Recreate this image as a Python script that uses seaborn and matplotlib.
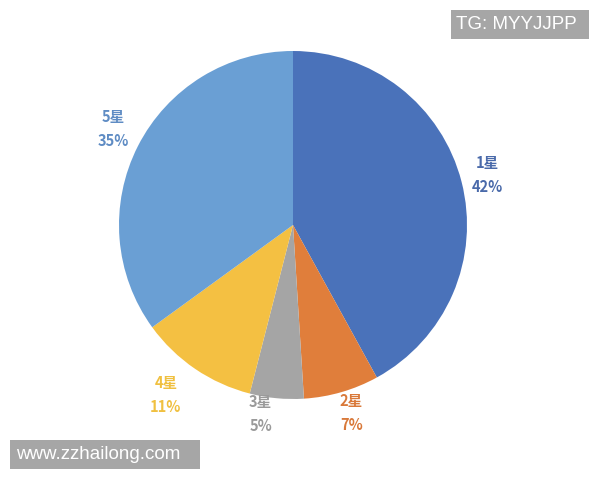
import numpy as np
import matplotlib
matplotlib.use("Agg")
import matplotlib.pyplot as plt
from matplotlib.patches import Rectangle
import seaborn as sns

categories = ["1星", "2星", "3星", "4星", "5星"]
values = [42, 7, 5, 11, 35]
pct_labels = ["42%", "7%", "5%", "11%", "35%"]
slice_colors = ["#4a72ba", "#e07e3b", "#a5a5a5", "#f4c042", "#6a9fd4"]
text_colors = ["#4a6aaa", "#d9793a", "#9a9a9a", "#f0c040", "#5f8cc4"]
label_dist = [1.155, 1.13, 1.10, 1.22, 1.17]
label_ang_shift = [0, 1, -4.3, -2.6, -1]

sns.set_theme(style="white")
plt.rcParams['font.family'] = ['Noto Sans CJK SC', 'DejaVu Sans']

palette = sns.color_palette(slice_colors)

W, H = 600, 480
fig = plt.figure(figsize=(6, 4.8), dpi=100)
ax = fig.add_axes([0, 0, 1, 1])

cx, cy, R = 293, 255, 174
wedges, _ = ax.pie(values, colors=palette, startangle=90, counterclock=False,
                   center=(cx, cy), radius=R, frame=True,
                   wedgeprops=dict(linewidth=0))
ax.set_xlim(0, W)
ax.set_ylim(0, H)
ax.set_aspect("equal")
ax.axis("off")

for w, cat, pct, tc, d, sh in zip(wedges, categories, pct_labels, text_colors,
                                  label_dist, label_ang_shift):
    ang = np.deg2rad((w.theta1 + w.theta2) / 2 + sh)
    x = cx + R * d * np.cos(ang)
    y = cy + R * d * np.sin(ang)
    ax.text(x, y + 12, cat, ha="center", va="center", fontsize=10.5,
            fontweight="bold", color=tc)
    ax.text(x, y - 12, pct, ha="center", va="center", fontsize=10.5,
            fontweight="bold", color=tc)

# watermark boxes (pixel coords, top-left origin)
def box(x0, y0, x1, y1, txt, tx):
    fig.patches.append(Rectangle((x0 / W, 1 - y1 / H), (x1 - x0) / W, (y1 - y0) / H,
                                 transform=fig.transFigure, facecolor="#a6a6a6",
                                 edgecolor="none", zorder=5))
    fig.text(tx / W, 1 - (y0 + y1) / 2 / H, txt, ha="left", va="center",
             fontsize=13.5, color="white", zorder=6,
             family=['Liberation Sans', 'DejaVu Sans'])

box(451, 10, 589, 39, "TG: MYYJJPP", 456)
box(10, 440, 200, 469, "www.zzhailong.com", 16)

fig.savefig("out.png", dpi=100, facecolor="white")
